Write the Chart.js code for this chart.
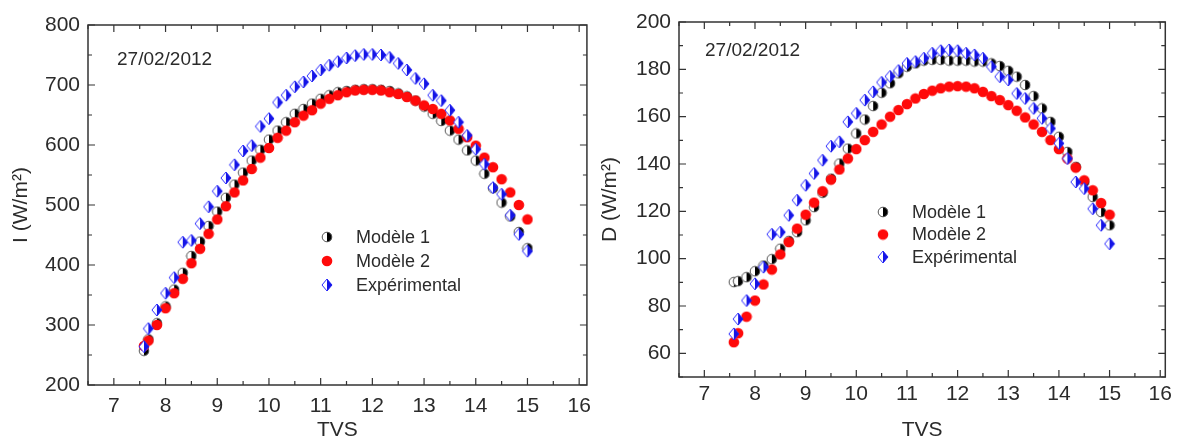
<!DOCTYPE html>
<html>
<head>
<meta charset="utf-8">
<script src="https://cdn.jsdelivr.net/npm/chart.js@4.4.0/dist/chart.umd.min.js"></script>
<style>
  html, body { margin: 0; padding: 0; background: #fff; }
  #wrap { position: relative; width: 1177px; height: 441px; }
  #leftBox { position: absolute; left: 0; top: 0; width: 600px; height: 441px; }
  #rightBox { position: absolute; left: 600px; top: 0; width: 577px; height: 441px; }
</style>
</head>
<body>
<div id="wrap">
  <div id="leftBox"><canvas id="chartI" width="600" height="441"></canvas></div>
  <div id="rightBox"><canvas id="chartD" width="577" height="441"></canvas></div>
</div>
<script>
// ==========================
// DATA
// ==========================
const tvs = [7.583, 7.667, 7.833, 8.0, 8.167, 8.333, 8.5, 8.667, 8.833, 9.0,
             9.167, 9.333, 9.5, 9.667, 9.833, 10.0, 10.167, 10.333, 10.5, 10.667,
             10.833, 11.0, 11.167, 11.333, 11.5, 11.667, 11.833, 12.0, 12.167, 12.333,
             12.5, 12.667, 12.833, 13.0, 13.167, 13.333, 13.5, 13.667, 13.833, 14.0,
             14.167, 14.333, 14.5, 14.667, 14.833, 15.0];

// global irradiance I (W/m²)
const iModele1 = [257, 276, 303, 331, 359, 387, 415, 439, 465, 489,
                  512, 534, 554, 574, 592, 609, 624, 638, 652, 660,
                  669, 677, 683, 688, 690, 692, 693, 693, 692, 690,
                  686, 681, 674, 664, 652, 640, 624, 609, 591, 574,
                  552, 528, 504, 481, 455, 428];
const iModele2 = [265, 274, 300, 328, 353, 377, 403, 427, 452, 476,
                  498, 521, 541, 560, 579, 595, 612, 624, 638, 649,
                  658, 669, 677, 683, 688, 691, 692, 692, 691, 688,
                  685, 680, 674, 666, 660, 652, 641, 627, 613, 599,
                  579, 563, 543, 521, 500, 476];
const iExp = [264, 294, 325, 353, 379, 438, 441, 469, 497, 523,
              545, 567, 590, 599, 631, 644, 671, 683, 697, 705,
              715, 725, 733, 739, 745, 749, 751, 751, 750, 746,
              736, 725, 711, 702, 683, 674, 658, 638, 616, 593,
              568, 529, 518, 483, 451, 423];

// diffuse irradiance D (W/m²)
const dModele1 = [90.1, 90.5, 92.2, 94.7, 97.1, 99.8, 104.2, 107.5, 111.2, 116.2,
                  121.8, 127.8, 133.8, 140.2, 146.5, 152.9, 158.8, 164.5, 170.1, 174.1,
                  178.3, 181.1, 182.5, 183.7, 184, 184, 183.7, 183.7, 183.7, 183.3,
                  183.3, 182.5, 181.4, 179.4, 176.9, 173.4, 168.7, 163.5, 157.8, 151.5,
                  145.1, 138.8, 132.4, 126.1, 119.7, 114.1];
const dModele2 = [64.7, 68.5, 75.5, 82.3, 89.1, 95.4, 101.8, 107, 112.7, 118.6,
                  123.7, 128.5, 133.4, 137.7, 142.3, 146.3, 150.1, 153.6, 156.7, 160,
                  162.8, 165.3, 167.7, 169.6, 171, 172, 172.7, 172.9, 172.7, 172,
                  170.5, 168.7, 167, 164.9, 162.5, 159.7, 156.7, 153.6, 150.1, 146.3,
                  142.3, 138.5, 133.1, 128.9, 123.5, 118.6];
const dExp = [68.2, 74.5, 82.3, 89.4, 96.4, 110.3, 111.2, 118.3, 124.7, 131,
              136, 141.6, 147.5, 149.4, 157.8, 161.4, 167, 170.5, 174.5, 177,
              179.5, 182.5, 183.3, 184.7, 186.8, 187.9, 188.2, 187.9, 186.8, 186.1,
              184.7, 181.1, 176.9, 175.5, 169.8, 167.7, 163.5, 159.3, 155, 148.7,
              142.3, 132.4, 129.6, 121.1, 114.1, 106.3];

const xTicks = [7, 8, 9, 10, 11, 12, 13, 14, 15, 16];
const iTicks = [200, 300, 400, 500, 600, 700, 800];
const dTicks = [60, 80, 100, 120, 140, 160, 180, 200];

const labels = ["Modèle 1", "Modèle 2", "Expérimental"];
const dateText = "27/02/2012";

// ==========================
// MARKERS
// ==========================
function makeMarker(kind) {
    const c = document.createElement("canvas");
    const g = c.getContext("2d");
    if (kind === "exp") {
        c.width = 12; c.height = 14;
        g.fillStyle = "#fff";
        g.beginPath();
        g.moveTo(6, 1); g.lineTo(11, 7); g.lineTo(6, 13); g.lineTo(1, 7); g.closePath();
        g.fill();
        g.strokeStyle = "#2a2aff";
        g.lineWidth = 1;
        g.stroke();
        g.fillStyle = "#1414e6";
        g.beginPath();
        g.moveTo(6, 1); g.lineTo(11, 7); g.lineTo(6, 13); g.closePath();
        g.fill();
        return c;
    }
    c.width = 12; c.height = 12;
    if (kind === "m2") {
        g.fillStyle = "#ff0a0a";
        g.beginPath(); g.arc(6, 6, 5.3, 0, Math.PI * 2); g.fill();
        return c;
    }
    g.fillStyle = "#fff";
    g.beginPath(); g.arc(6, 6, 5, 0, Math.PI * 2); g.fill();
    g.fillStyle = "#000";
    g.beginPath(); g.arc(6, 6, 5, -Math.PI / 2, Math.PI / 2); g.closePath(); g.fill();
    g.strokeStyle = "#555";
    g.lineWidth = 1;
    g.beginPath(); g.arc(6, 6, 4.8, 0, Math.PI * 2); g.stroke();
    return c;
}

const markers = [makeMarker("m1"), makeMarker("m2"), makeMarker("exp")];

// ==========================
// PLUGINS
// ==========================
const TEXT = "#2b2b2b";
const FONT = "'Liberation Sans', Arial, sans-serif";

// box frame with inward ticks on all four sides
const frameTicks = {
    id: "frameTicks",
    afterDraw(chart, args, opts) {
        const { ctx, chartArea: a, scales: { x, y } } = chart;
        ctx.save();
        ctx.strokeStyle = "#333";
        ctx.lineWidth = 1.5;
        ctx.strokeRect(a.left, a.top, a.right - a.left, a.bottom - a.top);
        ctx.lineWidth = 1.2;
        ctx.beginPath();
        const xt = opts.xTicks, yt = opts.yTicks;
        xt.forEach((v, i) => {
            const marks = [[v, 7]];
            if (i > 0) marks.push([(v + xt[i - 1]) / 2, 4]);
            if (i === 0) marks.push([v - (xt[1] - v) / 2, 4]);
            marks.forEach(([m, len]) => {
                if (m < x.min || m > x.max) return;
                const px = x.getPixelForValue(m);
                ctx.moveTo(px, a.bottom); ctx.lineTo(px, a.bottom - len);
                ctx.moveTo(px, a.top); ctx.lineTo(px, a.top + len);
            });
        });
        yt.forEach((v, i) => {
            const marks = [[v, 7]];
            if (i > 0) marks.push([(v + yt[i - 1]) / 2, 4]);
            if (i === 0) marks.push([v - (yt[1] - v) / 2, 4]);
            marks.forEach(([m, len]) => {
                if (m < y.min || m > y.max) return;
                const py = y.getPixelForValue(m);
                ctx.moveTo(a.left, py); ctx.lineTo(a.left + len, py);
                ctx.moveTo(a.right, py); ctx.lineTo(a.right - len, py);
            });
        });
        ctx.stroke();
        ctx.restore();
    }
};

// date note and in-plot legend
const notes = {
    id: "notes",
    afterDraw(chart, args, opts) {
        const { ctx } = chart;
        ctx.save();
        ctx.fillStyle = TEXT;
        ctx.textBaseline = "middle";
        ctx.font = "19px " + FONT;
        ctx.fillText(dateText, opts.date[0], opts.date[1]);
        ctx.font = "18px " + FONT;
        chart.data.datasets.forEach((ds, i) => {
            const m = ds.pointStyle;
            const ly = opts.legendY + i * opts.legendGap;
            ctx.drawImage(m, opts.legendX - m.width / 2, ly - m.height / 2);
            ctx.fillText(ds.label, opts.legendX + 29, ly + 1);
        });
        ctx.restore();
    }
};

// ==========================
// BUILD CHART
// ==========================
function buildChart(canvasId, cfg) {
    const series = [cfg.m1, cfg.m2, cfg.exp];
    const datasets = series.map((vals, i) => ({
        label: labels[i],
        data: tvs.map((t, k) => ({ x: t, y: vals[k] })),
        pointStyle: markers[i],
        pointRadius: 5,
        showLine: false,
        order: 2 - i
    }));

    const tickFont = { family: FONT, size: 21 };

    return new Chart(document.getElementById(canvasId), {
        type: "scatter",
        data: { datasets },
        options: {
            responsive: false,
            animation: false,
            layout: { padding: cfg.padding },
            plugins: {
                legend: { display: false },
                tooltip: { enabled: false },
                frameTicks: { xTicks, yTicks: cfg.yTicks },
                notes: cfg.notes
            },
            scales: {
                x: {
                    type: "linear",
                    min: 6.5,
                    max: cfg.xMax,
                    afterBuildTicks: s => { s.ticks = xTicks.map(v => ({ value: v })); },
                    afterFit: s => { s.height = cfg.xHeight; },
                    grid: { display: false, drawTicks: false },
                    border: { display: false },
                    ticks: { font: tickFont, color: TEXT, padding: cfg.xPad, autoSkip: false, maxRotation: 0 },
                    title: {
                        display: true, text: "TVS", color: TEXT,
                        font: { family: FONT, size: 21, lineHeight: 1 },
                        padding: { top: 0, bottom: cfg.xTitlePad }
                    }
                },
                y: {
                    type: "linear",
                    min: cfg.yMin,
                    max: cfg.yMax,
                    afterBuildTicks: s => { s.ticks = cfg.yTicks.map(v => ({ value: v })); },
                    afterFit: s => { s.width = cfg.yWidth; },
                    grid: { display: false, drawTicks: false },
                    border: { display: false },
                    ticks: { font: tickFont, color: TEXT, padding: 8, autoSkip: false },
                    title: {
                        display: true, text: cfg.yTitle, color: TEXT,
                        font: { family: FONT, size: 21, lineHeight: 1 },
                        padding: { top: cfg.yTitlePad, bottom: 0 }
                    }
                }
            }
        },
        plugins: [frameTicks, notes]
    });
}

// ==========================
// LEFT: I
// ==========================
buildChart("chartI", {
    m1: iModele1, m2: iModele2, exp: iExp,
    yTicks: iTicks, yMin: 200, yMax: 800, xMax: 16.15,
    yTitle: "I (W/m²)",
    padding: { top: 25, right: 10, left: 0, bottom: 0 },
    yWidth: 88, xHeight: 56, xPad: 9, xTitlePad: 0, yTitlePad: 11,
    notes: { date: [117, 60], legendX: 327, legendY: 237, legendGap: 24 }
});

// ==========================
// RIGHT: D
// ==========================
buildChart("chartD", {
    m1: dModele1, m2: dModele2, exp: dExp,
    yTicks: dTicks, yMin: 50, yMax: 200, xMax: 16.1,
    yTitle: "D (W/m²)",
    padding: { top: 22, right: 9, left: 0, bottom: 0 },
    yWidth: 79, xHeight: 64, xPad: 5, xTitlePad: 0, yTitlePad: 0,
    notes: { date: [105, 51], legendX: 283, legendY: 212, legendGap: 22.5 }
});
</script>
</body>
</html>
